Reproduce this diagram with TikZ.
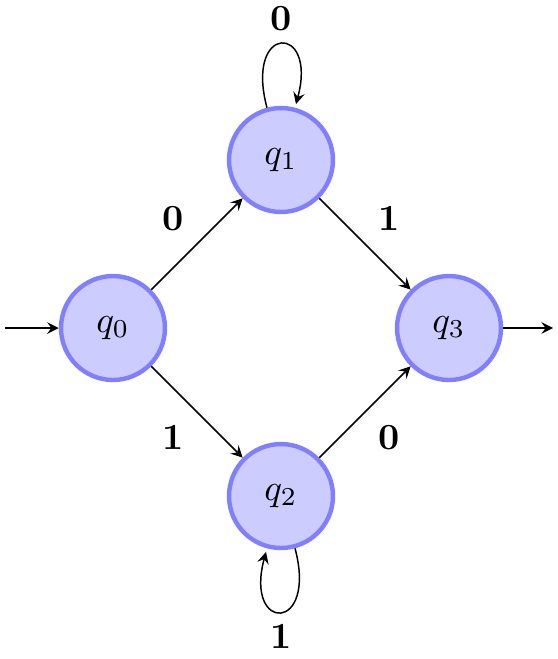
\documentclass[tikz,border=0pt]{standalone}
\usetikzlibrary{positioning}

\begin{document}
\begin{tikzpicture}[>=stealth, on grid,
  qstate/.style={circle, draw=blue!50, fill=blue!20, line width=1.2pt, minimum size=0.99cm},
  lbl/.style={font=\bfseries}]
  \useasboundingbox (0,0) rectangle (5.314,6.276);
  \node[qstate] (q0) at (1.076,3.152) {$q_0$};
  \node[qstate] (q1) [above right=1.6cm and 1.6cm of q0] {$q_1$};
  \node[qstate] (q2) [below right=1.6cm and 1.6cm of q0] {$q_2$};
  \node[qstate] (q3) [below right=1.6cm and 1.6cm of q1] {$q_3$};
  \coordinate (in) at (0.048,3.152);
  \coordinate (out) at (5.267,3.152);
  \draw[->] (in) -- (q0);
  \draw[->] (q3) -- (out);
  \draw[->] (q0) -- node[lbl, auto] {0} (q1);
  \draw[->] (q1) -- node[lbl, auto] {1} (q3);
  \draw[->] (q0) -- node[lbl, auto, swap] {1} (q2);
  \draw[->] (q2) -- node[lbl, auto, swap] {0} (q3);
  \draw[->] (q1) edge[loop above] node[lbl, auto] {0} (q1);
  \draw[->] (q2) edge[loop below] node[lbl, auto] {1} (q2);
\end{tikzpicture}
\end{document}
